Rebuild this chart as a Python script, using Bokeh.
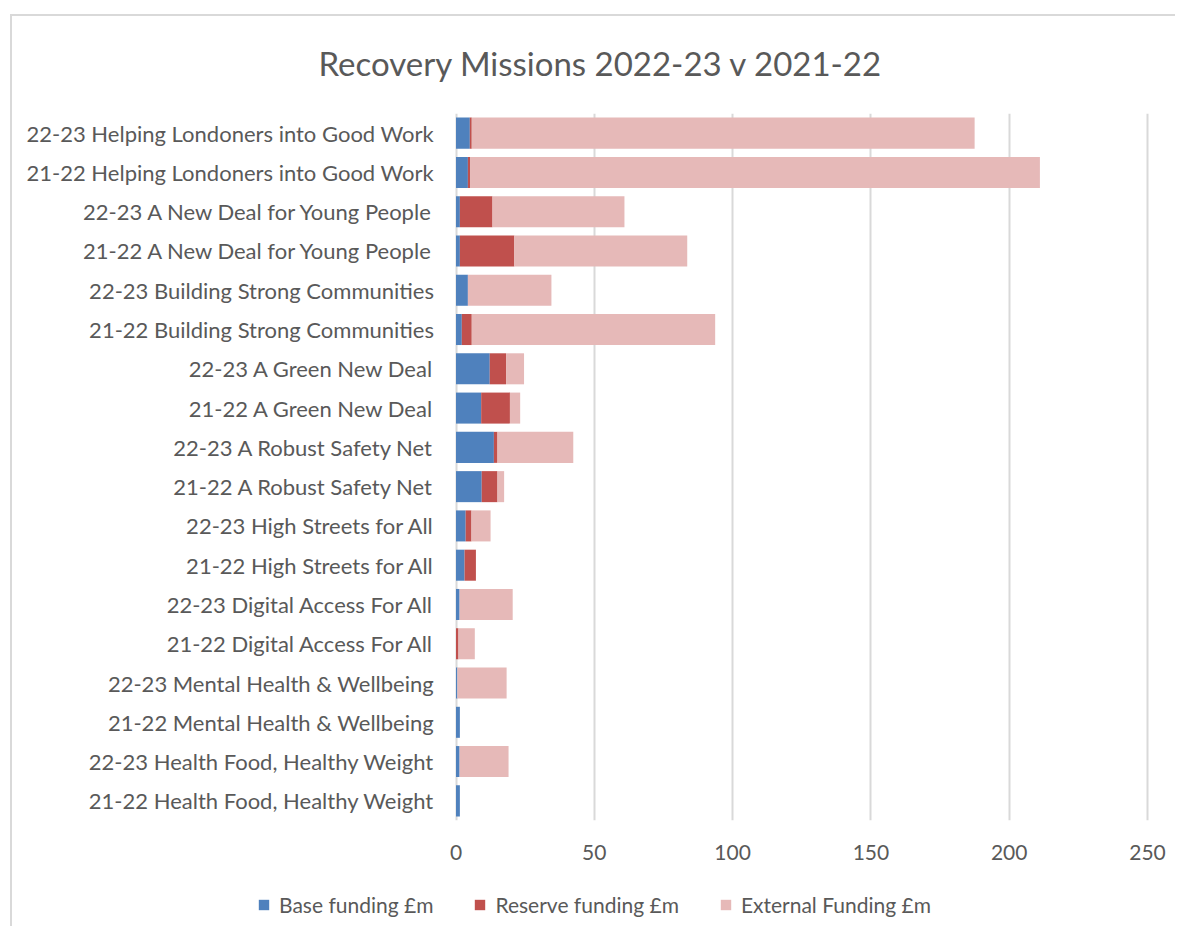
from bokeh.plotting import figure
from bokeh.models import Range1d, FactorRange, Legend, LegendItem, ColumnDataSource
from bokeh.layouts import column
from bokeh.core.properties import value
from bokeh.embed import file_html
from bokeh.resources import INLINE

categories = [
    "22-23 Helping Londoners into Good Work",
    "21-22 Helping Londoners into Good Work",
    "22-23 A New Deal for Young People",
    "21-22 A New Deal for Young People",
    "22-23 Building Strong Communities",
    "21-22 Building Strong Communities",
    "22-23 A Green New Deal",
    "21-22 A Green New Deal",
    "22-23 A Robust Safety Net",
    "21-22 A Robust Safety Net",
    "22-23 High Streets for All",
    "21-22 High Streets for All",
    "22-23 Digital Access For All",
    "21-22 Digital Access For All",
    "22-23 Mental Health & Wellbeing",
    "21-22 Mental Health & Wellbeing",
    "22-23 Health Food, Healthy Weight",
    "21-22 Health Food, Healthy Weight",
]
base = [5.0, 4.3, 1.4, 1.4, 4.3, 2.1, 12.2, 9.1, 13.7, 9.3, 3.5, 3.1, 1.3, 0.0, 0.5, 1.4, 1.3, 1.4]
reserve = [0.7, 0.9, 11.8, 19.7, 0.0, 3.6, 5.9, 10.4, 1.3, 5.7, 2.1, 4.1, 0.0, 0.9, 0.0, 0.0, 0.0, 0.0]
external = [181.8, 205.9, 47.7, 62.5, 30.2, 88.0, 6.5, 3.7, 27.4, 2.4, 6.9, 0.0, 19.2, 5.9, 17.8, 0.0, 17.7, 0.0]
series = ["Base funding £m", "Reserve funding £m", "External Funding £m"]
colors = ["#4F81BD", "#C0504D", "#E6B9B8"]
x_ticks = [0, 50, 100, 150, 200, 250]

FONT = "Lato"
GREY = "#595959"

src = ColumnDataSource(dict(cat=categories, base=base, reserve=reserve, external=external,
                            zero=[0] * len(categories)))

# the layout starts at x=10 (where the chart-area border sits)
OX = 10
# frame spans from 20px to 1175px; value 0 sits at 455.5px, 250 at 1147px (page coords)
PX_PER_UNIT = (1147 - 455.5) / 250
X_START = -(455.5 - 20) / PX_PER_UNIT
X_END = X_START + (1175 - 20) / PX_PER_UNIT

p = figure(
    width=1175 - OX, height=870,
    y_range=FactorRange(*list(reversed(categories))),
    x_range=Range1d(X_START, X_END),
    output_backend="svg", toolbar_location=None,
    min_border_left=20 - OX, min_border_right=0, min_border_top=113, min_border_bottom=50,
    title="Recovery Missions 2022-23 v 2021-22",
)
renderers = p.hbar_stack(["base", "reserve", "external"], y="cat", height=0.79, color=colors,
                         source=src, line_color=None)

# category labels, right-aligned against the value axis
p.text(x="zero", y="cat", text="cat", source=src, x_offset=-22, text_align="right",
       text_baseline="middle", text_font=value(FONT), text_font_size="22px", text_color=GREY)

p.title.align = "left"
p.title.offset = 298
p.title.standoff = 62
p.title.text_font = FONT
p.title.text_font_size = "33px"
p.title.text_font_style = "normal"
p.title.text_color = GREY

p.outline_line_color = None
p.background_fill_alpha = 0
p.border_fill_alpha = 0

p.yaxis.visible = False
p.xaxis.ticker = x_ticks
p.xaxis.axis_line_color = None
p.xaxis.major_tick_line_color = None
p.xaxis.minor_tick_line_color = None
p.xaxis.major_label_text_font = FONT
p.xaxis.major_label_text_font_size = "21px"
p.xaxis.major_label_text_color = GREY
p.xaxis.major_label_standoff = 18

p.xgrid.ticker = x_ticks
p.xgrid.grid_line_color = "#D9D9D9"
p.xgrid.grid_line_width = 2
p.ygrid.grid_line_color = None

# legend strip below the chart
lg = figure(width=1175 - OX, height=56, output_backend="svg", toolbar_location=None,
            x_range=Range1d(X_START, X_END), y_range=FactorRange(*list(reversed(categories))),
            min_border_left=20 - OX, min_border_right=0, min_border_top=0, min_border_bottom=0)
lg.axis.visible = False
lg.grid.grid_line_color = None
lg.outline_line_color = None
lg.background_fill_alpha = 0
lg.border_fill_alpha = 0
lrs = lg.hbar_stack(["base", "reserve", "external"], y="cat", height=0.79, color=colors,
                    source=src, line_color=None)
for r in lrs:
    r.visible = False
legend = Legend(items=[LegendItem(label=s, renderers=[r]) for s, r in zip(series, lrs)],
                orientation="horizontal", location=(237, 9),
                label_text_font=FONT, label_text_font_size="21px", label_text_color=GREY,
                glyph_width=13, glyph_height=13, spacing=40, border_line_color=None,
                background_fill_alpha=0, margin=0, padding=0, label_standoff=9,
                inactive_fill_alpha=0)
lg.add_layout(legend)

# chart-area border: a left and a top line starting at y=14, drawn behind the transparent figures
layout = column(p, lg, spacing=0, margin=(0, 0, 0, OX),
                styles={
                    "background-color": "white",
                    "background-image": "linear-gradient(#D9D9D9, #D9D9D9), linear-gradient(#D9D9D9, #D9D9D9)",
                    "background-size": "100% 2px, 2px 100%",
                    "background-position": "0 14px, 0 14px",
                    "background-repeat": "no-repeat, no-repeat",
                })
open("out.html", "w").write(file_html(layout, INLINE))
